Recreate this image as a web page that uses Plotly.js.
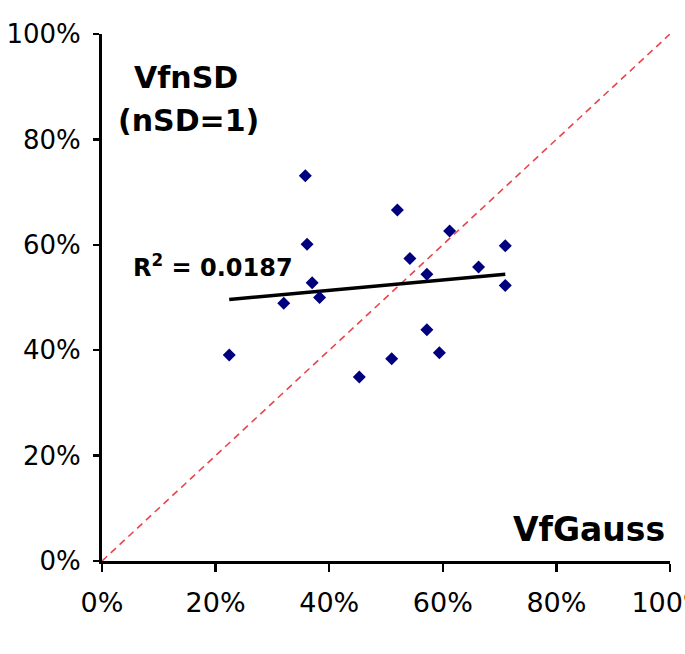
<!DOCTYPE html>
<html>
<head>
<meta charset="utf-8">
<script src="https://cdn.plot.ly/plotly-3.0.1.min.js"></script>
<style>
  html, body { margin: 0; padding: 0; background: #ffffff; overflow: hidden; }
  #chart { width: 685px; height: 654px; }
</style>
</head>
<body>
<div id="chart"></div>
<script>
// VfGauss (x) vs VfnSD with nSD=1 (y), as fractions
var vfGauss = [0.358, 0.361, 0.370, 0.383, 0.320, 0.224, 0.510, 0.453, 0.520,
               0.612, 0.710, 0.542, 0.572, 0.663, 0.710, 0.572, 0.594];
var vfnSD   = [0.731, 0.601, 0.528, 0.500, 0.489, 0.391, 0.384, 0.349, 0.666,
               0.626, 0.598, 0.574, 0.544, 0.558, 0.523, 0.439, 0.395];
var identityLine = [0, 1];
var tickVals = [0, 0.2, 0.4, 0.6, 0.8, 1.0];
var tickText = ['0%', '20%', '40%', '60%', '80%', '100%'];
var r2Label = 'R<sup>2</sup> = 0.0187';
var xLabel = 'VfGauss';
var yLabel1 = 'VfnSD';
var yLabel2 = '(nSD=1)';

// least-squares trendline
var n = vfGauss.length, mx = 0, my = 0;
for (var i = 0; i < n; i++) { mx += vfGauss[i]; my += vfnSD[i]; }
mx /= n; my /= n;
var sxy = 0, sxx = 0;
for (var i = 0; i < n; i++) { sxy += (vfGauss[i]-mx)*(vfnSD[i]-my); sxx += (vfGauss[i]-mx)*(vfGauss[i]-mx); }
var slope = sxy / sxx, icpt = my - slope * mx;
var xmin = Math.min.apply(null, vfGauss), xmax = Math.max.apply(null, vfGauss);
var trendX = [xmin, xmax];
var trendY = trendX.map(function (v) { return icpt + slope * v; });

var FONT = 'DejaVu Sans, Liberation Sans, Arial, sans-serif';

var traces = [
  { x: identityLine, y: identityLine, type: 'scatter', mode: 'lines',
    line: { color: '#e8454c', width: 1.6, dash: '7px,5px' }, hoverinfo: 'skip' },
  { x: trendX, y: trendY, type: 'scatter', mode: 'lines',
    line: { color: '#000000', width: 3.5 }, hoverinfo: 'skip' },
  { x: vfGauss, y: vfnSD, type: 'scatter', mode: 'markers',
    marker: { symbol: 'diamond', size: 10, color: '#00007f' }, cliponaxis: false }
];

var axisCommon = {
  range: [0, 1], tickvals: tickVals, ticktext: tickText,
  showgrid: false, zeroline: false, showline: true, linecolor: '#000000', linewidth: 3,
  ticks: 'outside', tickcolor: '#000000', tickwidth: 2.5,
  ticklabeloverflow: 'allow', automargin: false,
  tickfont: { family: FONT, size: 27, color: '#000000' }, fixedrange: true
};

var layout = {
  width: 685, height: 654,
  margin: { l: 102, r: 15, t: 34, b: 93, pad: 0 },
  paper_bgcolor: '#ffffff', plot_bgcolor: '#ffffff',
  showlegend: false,
  xaxis: Object.assign({}, axisCommon, { ticklen: 8, ticklabelstandoff: 8 }),
  yaxis: Object.assign({}, axisCommon, { ticklen: 6, ticklabelstandoff: 7,
    tickfont: { family: FONT, size: 26, color: '#000000' } }),
  annotations: [
    { x: 0.147, y: 0.917, xref: 'x', yref: 'y', text: yLabel1, showarrow: false,
      xanchor: 'center', yanchor: 'middle', font: { family: FONT, size: 30, color: '#000000', weight: 'bold' } },
    { x: 0.152, y: 0.836, xref: 'x', yref: 'y', text: yLabel2, showarrow: false,
      xanchor: 'center', yanchor: 'middle', font: { family: FONT, size: 30, color: '#000000', weight: 'bold' } },
    { x: 0.857, y: 0.06, xref: 'x', yref: 'y', text: xLabel, showarrow: false,
      xanchor: 'center', yanchor: 'middle', font: { family: FONT, size: 33, color: '#000000', weight: 'bold' } },
    { x: 0.196, y: 0.56, xref: 'x', yref: 'y', text: r2Label, showarrow: false,
      xanchor: 'center', yanchor: 'middle', font: { family: FONT, size: 24, color: '#000000', weight: 'bold' } }
  ]
};

Plotly.newPlot('chart', traces, layout, { displayModeBar: false, staticPlot: true });
</script>
</body>
</html>
